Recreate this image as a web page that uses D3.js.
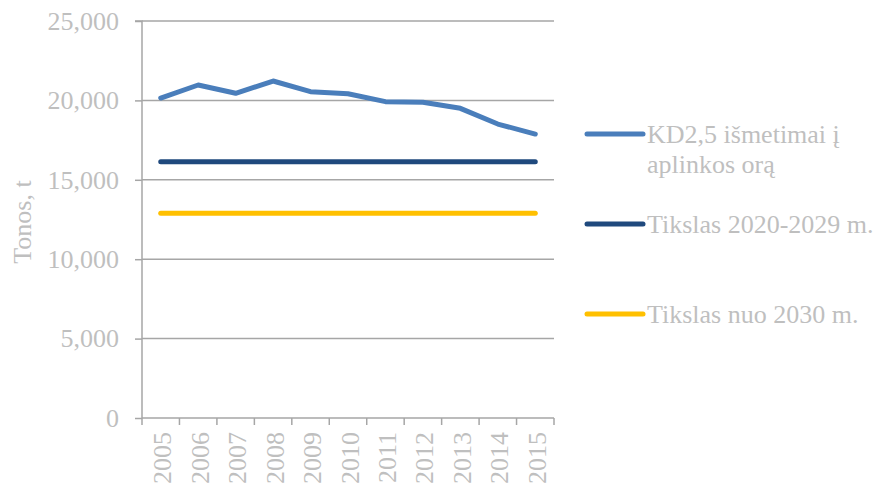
<!DOCTYPE html>
<html>
<head>
<meta charset="utf-8">
<script src="https://cdn.jsdelivr.net/npm/d3@7"></script>
<style>
  html, body { margin: 0; padding: 0; background: #fff; }
  svg { display: block; font-family: "Liberation Serif", "Times New Roman", serif; }
</style>
</head>
<body>
<svg id="chart" width="881" height="490"></svg>
<script>
// Data
const years = ['2005', '2006', '2007', '2008', '2009', '2010', '2011', '2012', '2013', '2014', '2015'];
const emissions = [20150, 20970, 20450, 21220, 20550, 20420, 19920, 19880, 19500, 18510, 17880];
const target2020 = [16140, 16140, 16140, 16140, 16140, 16140, 16140, 16140, 16140, 16140, 16140];
const target2030 = [12890, 12890, 12890, 12890, 12890, 12890, 12890, 12890, 12890, 12890, 12890];
const yTicks = [0, 5000, 10000, 15000, 20000, 25000];

const seriesNames = [['KD2,5 išmetimai į', 'aplinkos orą'], ['Tikslas 2020-2029 m.'], ['Tikslas nuo 2030 m.']];
const seriesColors = ['#4a7ebb', '#1f497d', '#ffc000'];
const seriesData = [emissions, target2020, target2030];

const svg = d3.select('#chart');
const axisCol = '#a6a6a6';
const textCol = '#bfbfbf';
const fontSize = 26;

const x = d3.scaleBand().domain(years).range([142, 554]).padding(0);
const y = d3.scaleLinear().domain([0, 25000]).range([418, 21]);

// Gridlines
svg.append('g')
  .selectAll('line')
  .data(yTicks.filter(d => d > 0))
  .join('line')
  .attr('x1', 142).attr('x2', 554)
  .attr('y1', d => y(d)).attr('y2', d => y(d))
  .attr('stroke', axisCol).attr('stroke-width', 1.5);

// Y axis
const yAxis = svg.append('g')
  .attr('transform', 'translate(142,0)')
  .call(d3.axisLeft(y).tickValues(yTicks).tickSize(7).tickPadding(16).tickFormat(d3.format(',')));
yAxis.select('.domain').attr('stroke', axisCol).attr('stroke-width', 1.5).attr('d', `M-7,${y(25000)}H0V${y(0)}`);
yAxis.selectAll('.tick line').attr('stroke', axisCol).attr('stroke-width', 1.5);
yAxis.selectAll('.tick text')
  .attr('fill', textCol).style('font-size', fontSize + 'px').style('font-family', '"Liberation Serif", serif');

// X axis (ticks at category boundaries)
const xAxis = svg.append('g').attr('transform', `translate(0,${y(0)})`);
xAxis.append('line')
  .attr('x1', 142).attr('x2', 554)
  .attr('stroke', axisCol).attr('stroke-width', 1.5);
const bounds = years.map(d => x(d)).concat([x(years[years.length - 1]) + x.bandwidth()]);
xAxis.selectAll('line.tk')
  .data(bounds)
  .join('line')
  .attr('class', 'tk')
  .attr('x1', d => d).attr('x2', d => d)
  .attr('y1', 0).attr('y2', 7)
  .attr('stroke', axisCol).attr('stroke-width', 1.5);
xAxis.selectAll('text')
  .data(years)
  .join('text')
  .attr('transform', d => `translate(${x(d) + x.bandwidth() / 2 + 10.5},14) rotate(-90)`)
  .attr('text-anchor', 'end')
  .attr('fill', textCol)
  .style('font-size', fontSize + 'px')
  .text(d => d);

// Y axis title
svg.append('text')
  .attr('transform', 'translate(31,222) rotate(-90)')
  .attr('text-anchor', 'middle')
  .attr('fill', textCol)
  .style('font-size', fontSize + 'px')
  .text('Tonos, t');

// Lines
const line = d3.line()
  .x((d, i) => x(years[i]) + x.bandwidth() / 2)
  .y(d => y(d));

svg.append('g')
  .selectAll('path')
  .data(seriesData)
  .join('path')
  .attr('d', d => line(d))
  .attr('fill', 'none')
  .attr('stroke', (d, i) => seriesColors[i])
  .attr('stroke-width', 5)
  .attr('stroke-linecap', 'round')
  .attr('stroke-linejoin', 'round');

// Legend
const legendY = [134, 224, 314];
const legend = svg.append('g')
  .selectAll('g')
  .data(seriesNames)
  .join('g')
  .attr('transform', (d, i) => `translate(587,${legendY[i]})`);
legend.append('line')
  .attr('x1', 0).attr('x2', 56)
  .attr('stroke', (d, i) => seriesColors[i])
  .attr('stroke-width', 5)
  .attr('stroke-linecap', 'round');
legend.append('text')
  .attr('x', 60)
  .attr('fill', textCol)
  .style('font-size', fontSize + 'px')
  .selectAll('tspan')
  .data(d => d)
  .join('tspan')
  .attr('x', 60)
  .attr('y', (d, i) => 9 + i * 30)
  .text(d => d);
</script>
</body>
</html>
